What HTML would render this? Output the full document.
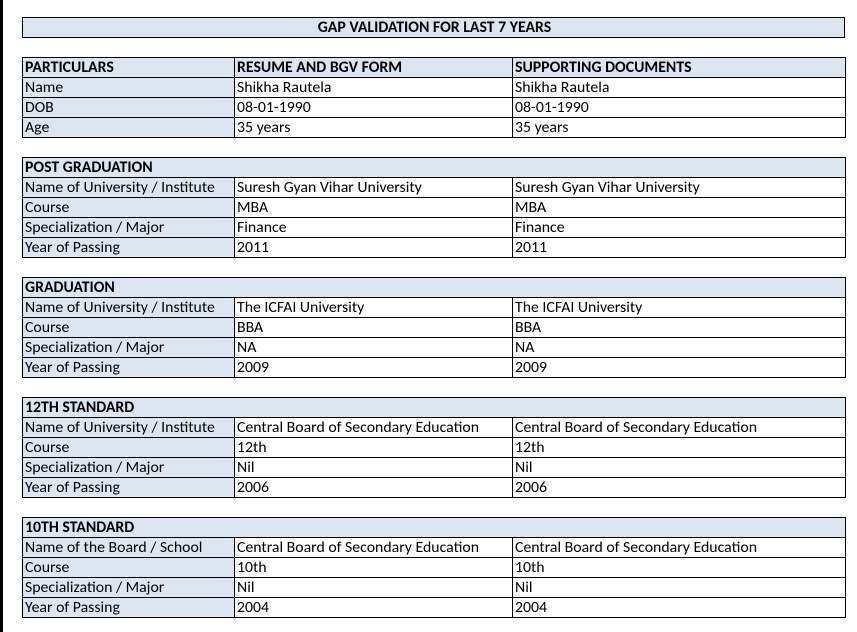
<!DOCTYPE html>
<html><head><meta charset="utf-8"><style>
body{margin:0;width:857px;height:632px;background:#fff;position:relative;overflow:hidden;font-family:Calibri,Carlito,"Liberation Sans",sans-serif;font-size:15.8px;color:#000}
.strip{position:absolute;left:0;top:0;width:3px;height:632px;background:#000}
table{position:absolute;left:22px;border-collapse:collapse;table-layout:fixed;width:823px}
td{border:1px solid #000;height:19px;padding:0 0 0 2px;line-height:19px;white-space:nowrap;overflow:hidden;vertical-align:middle}
.h td{background:#dce6f1;font-weight:bold}
td.l{background:#dce6f1}
.t td{text-align:center;font-weight:bold;background:#dce6f1}
</style></head><body>
<div class="strip"></div>
<table style="top:17px" class="t"><tr><td>GAP VALIDATION FOR LAST 7 YEARS</td></tr></table>

<table style="top:57px"><colgroup><col style="width:212px"><col style="width:278px"><col style="width:333px"></colgroup>
<tr class="h"><td>PARTICULARS</td><td>RESUME AND BGV FORM</td><td>SUPPORTING DOCUMENTS</td></tr>
<tr><td class="l">Name</td><td>Shikha Rautela</td><td>Shikha Rautela</td></tr>
<tr><td class="l">DOB</td><td>08-01-1990</td><td>08-01-1990</td></tr>
<tr><td class="l">Age</td><td>35 years</td><td>35 years</td></tr>
</table>

<table style="top:157px"><colgroup><col style="width:212px"><col style="width:278px"><col style="width:333px"></colgroup>
<tr class="h"><td colspan="3">POST GRADUATION</td></tr>
<tr><td class="l">Name of University / Institute</td><td>Suresh Gyan Vihar University</td><td>Suresh Gyan Vihar University</td></tr>
<tr><td class="l">Course</td><td>MBA</td><td>MBA</td></tr>
<tr><td class="l">Specialization / Major</td><td>Finance</td><td>Finance</td></tr>
<tr><td class="l">Year of Passing</td><td>2011</td><td>2011</td></tr>
</table>

<table style="top:277px"><colgroup><col style="width:212px"><col style="width:278px"><col style="width:333px"></colgroup>
<tr class="h"><td colspan="3">GRADUATION</td></tr>
<tr><td class="l">Name of University / Institute</td><td>The ICFAI University</td><td>The ICFAI University</td></tr>
<tr><td class="l">Course</td><td>BBA</td><td>BBA</td></tr>
<tr><td class="l">Specialization / Major</td><td>NA</td><td>NA</td></tr>
<tr><td class="l">Year of Passing</td><td>2009</td><td>2009</td></tr>
</table>

<table style="top:397px"><colgroup><col style="width:212px"><col style="width:278px"><col style="width:333px"></colgroup>
<tr class="h"><td colspan="3">12TH STANDARD</td></tr>
<tr><td class="l">Name of University / Institute</td><td>Central Board of Secondary Education</td><td>Central Board of Secondary Education</td></tr>
<tr><td class="l">Course</td><td>12th</td><td>12th</td></tr>
<tr><td class="l">Specialization / Major</td><td>Nil</td><td>Nil</td></tr>
<tr><td class="l">Year of Passing</td><td>2006</td><td>2006</td></tr>
</table>

<table style="top:517px"><colgroup><col style="width:212px"><col style="width:278px"><col style="width:333px"></colgroup>
<tr class="h"><td colspan="3">10TH STANDARD</td></tr>
<tr><td class="l">Name of the Board / School</td><td>Central Board of Secondary Education</td><td>Central Board of Secondary Education</td></tr>
<tr><td class="l">Course</td><td>10th</td><td>10th</td></tr>
<tr><td class="l">Specialization / Major</td><td>Nil</td><td>Nil</td></tr>
<tr><td class="l">Year of Passing</td><td>2004</td><td>2004</td></tr>
</table>
</body></html>
